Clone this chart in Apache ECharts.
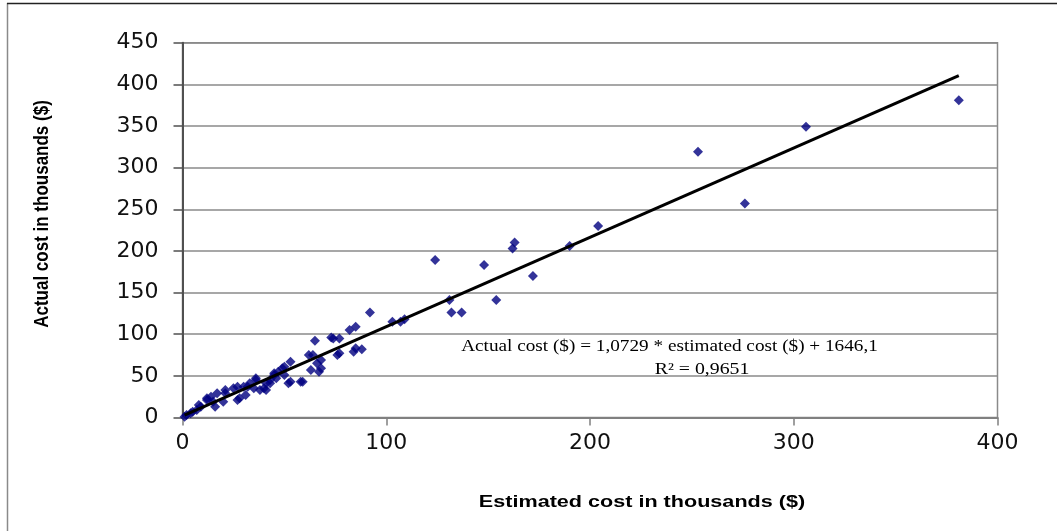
<!DOCTYPE html>
<html>
<head>
<meta charset="utf-8">
<script src="https://cdn.jsdelivr.net/npm/echarts@6/dist/echarts.min.js"></script>
<style>html,body{margin:0;padding:0;background:#fff}#c{width:1057px;height:531px}</style>
</head>
<body>
<div id="c"></div>
<script>
// Estimated cost (thousands $) vs actual cost (thousands $)
var estimated = [1,2,4,5,7,8,9,12,12,14,15,16,17,20,21,21,25,27,27,28,30,31,32,33,35,36,36,38,40,41,41,43,43,45,45,46,47,49,50,50,52,53,53,58,59,62,63,64,65,66,67,68,68,73,74,76,77,77,82,84,85,85,88,92,103,107,109,124,131,132,137,148,154,162,163,172,190,204,253,276,306,381];
var actual    = [1,3,5,7,9,15,13,21,23,25,19,13,29,19,29,33,35,37,21,23,37,27,37,41,35,45,47,33,35,33,41,41,45,51,53,47,55,59,51,61,41,43,67,43,43,75,57,75,92,65,55,59,69,96,95,75,77,95,105,79,83,109,82,126,115,115,118,189,141,126,126,183,141,203,210,170,206,230,319,257,349,381];
// Trend line as printed on the chart: Actual = 1,0729 * estimated + 1646,1 ($)
var slope = 1.0729;
var interceptK = 1.6461; // in thousands
var trendX = [1, 381];
var xTicks = [0, 100, 200, 300, 400];
var yTicks = [0, 50, 100, 150, 200, 250, 300, 350, 400, 450];
var xTitle = 'Estimated cost in thousands ($)';
var yTitle = 'Actual cost in thousands ($)';
var eqLine1 = 'Actual cost ($) = 1,0729 * estimated cost ($) + 1646,1';
var eqLine2 = 'R\u00b2 = 0,9651';

var points = estimated.map(function (v, i) { return [v, actual[i]]; });
var trend = trendX.map(function (x) { return [x, slope * x + interceptK]; });

var chart = echarts.init(document.getElementById('c'), null, {renderer: 'canvas'});
chart.setOption({
  animation: false,
  backgroundColor: '#fff',
  grid: {left: 182.5, right: 59.5, top: 42.7, bottom: 113.5, show: true, borderColor: '#8a8a8a', borderWidth: 1.5, backgroundColor: 'transparent'},
  xAxis: {
    type: 'value', min: xTicks[0], max: xTicks[xTicks.length - 1], interval: 100,
    axisLine: {show: true, onZero: false, lineStyle: {color: '#808080', width: 2}},
    axisTick: {show: true, inside: false, length: 8, lineStyle: {color: '#808080', width: 1.5}},
    axisLabel: {fontFamily: 'DejaVu Sans', fontSize: 22, color: '#111', margin: 15},
    splitLine: {show: false}
  },
  yAxis: {
    type: 'value', min: yTicks[0], max: yTicks[yTicks.length - 1], interval: 50,
    axisLine: {show: true, onZero: false, lineStyle: {color: '#505050', width: 2}},
    axisTick: {show: true, inside: false, length: 9, lineStyle: {color: '#505050', width: 1.5}},
    axisLabel: {fontFamily: 'DejaVu Sans', fontSize: 22, color: '#111', margin: 24},
    splitLine: {show: true, lineStyle: {color: '#8a8a8a', width: 1.5}}
  },
  series: [
    {
      type: 'scatter', data: points, symbol: 'diamond', symbolSize: 10,
      itemStyle: {color: '#000080'}, z: 2
    },
    {
      type: 'line', data: trend, showSymbol: false, symbol: 'none',
      lineStyle: {color: '#000', width: 3}, z: 3
    }
  ],
  graphic: [
    {type: 'line', shape: {x1: 7.5, y1: 3, x2: 7.5, y2: 531}, style: {stroke: '#8a8a8a', lineWidth: 1.5}},
    {type: 'line', shape: {x1: 7, y1: 3.5, x2: 1057, y2: 3.5}, style: {stroke: '#222', lineWidth: 1.5}},
    {type: 'text', x: 642, y: 502.5, scaleX: 1.27, style: {text: xTitle, font: 'bold 17px "Liberation Sans", Arial, sans-serif', fill: '#000', textAlign: 'center', textVerticalAlign: 'middle'}, z: 10},
    {type: 'text', x: 42, y: 214, rotation: Math.PI / 2, scaleY: 1.2, style: {text: yTitle, font: 'bold 17px "Liberation Sans", Arial, sans-serif', fill: '#000', textAlign: 'center', textVerticalAlign: 'middle'}, z: 10},
    {type: 'text', x: 669.5, y: 347, scaleX: 1.165, style: {text: eqLine1, font: '16.5px "Liberation Serif", "Times New Roman", serif', fill: '#000', textAlign: 'center', textVerticalAlign: 'middle'}, z: 10},
    {type: 'text', x: 702, y: 370, scaleX: 1.2, style: {text: eqLine2, font: '16.5px "Liberation Serif", "Times New Roman", serif', fill: '#000', textAlign: 'center', textVerticalAlign: 'middle'}, z: 10}
  ]
});
</script>
</body>
</html>
